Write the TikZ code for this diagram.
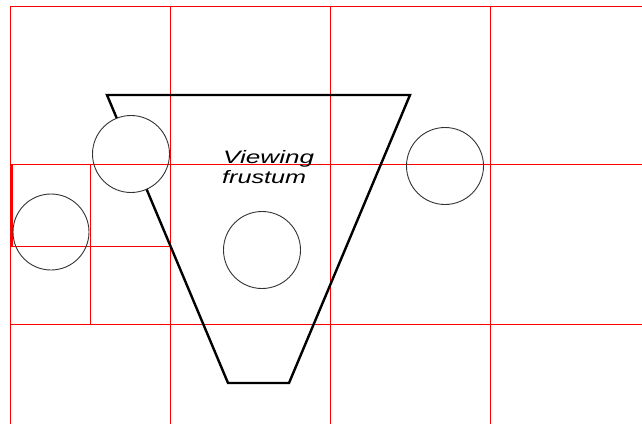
\documentclass[tikz,border=0pt]{standalone}
\usepackage{fontspec}
\setmainfont{Liberation Sans}
\definecolor{gridred}{RGB}{255,0,0}
\begin{document}
\begin{tikzpicture}[x=1pt,y=-1pt,
  gridline/.style={draw=gridred,line width=1.2pt,line cap=rect},
  frustum/.style={draw=black,line width=2.4pt,line join=miter},
  ball/.style={draw=black!80,line width=0.9pt},
  label/.style={inner sep=0pt,anchor=base west,font=\itshape\fontsize{18}{20}\selectfont}]
\useasboundingbox[fill=white] (0,0) rectangle (642,423);
% grid
\path[gridline]
  (10.5,6.5) -- (642,6.5)
  (10.5,164.5) -- (642,164.5)
  (10.5,324.5) -- (642,324.5)
  (10.5,6.5) -- (10.5,423)
  (170.5,6.5) -- (170.5,423)
  (330.5,6.5) -- (330.5,423)
  (490.5,6.5) -- (490.5,423)
  (90.5,164.5) -- (90.5,324.5)
  (10.5,246.5) -- (170.5,246.5);
\draw[draw=gridred,line width=2.6pt] (11.3,164.5) -- (11.3,246.5);
% frustum, hidden where the top-left ball covers it
\begin{scope}[even odd rule]
\clip (0,0) rectangle (642,423) (131,154) circle (38.5);
\draw[frustum] (107,95) -- (410,95) -- (289,383) -- (228,383) -- cycle;
\end{scope}
% balls
\draw[ball] (131,154) circle (38.5);
\draw[ball] (51,232) circle (38);
\draw[ball] (445,166) circle (38.5);
\draw[ball] (262,250) circle (38.5);
% label
\node[label] (t1) at (223,163.3) {\scalebox{1.45}[1]{Viewing}};
\node[label] (t2) at (222,183) {\scalebox{1.4}[1]{frustum}};
\end{tikzpicture}
\end{document}
